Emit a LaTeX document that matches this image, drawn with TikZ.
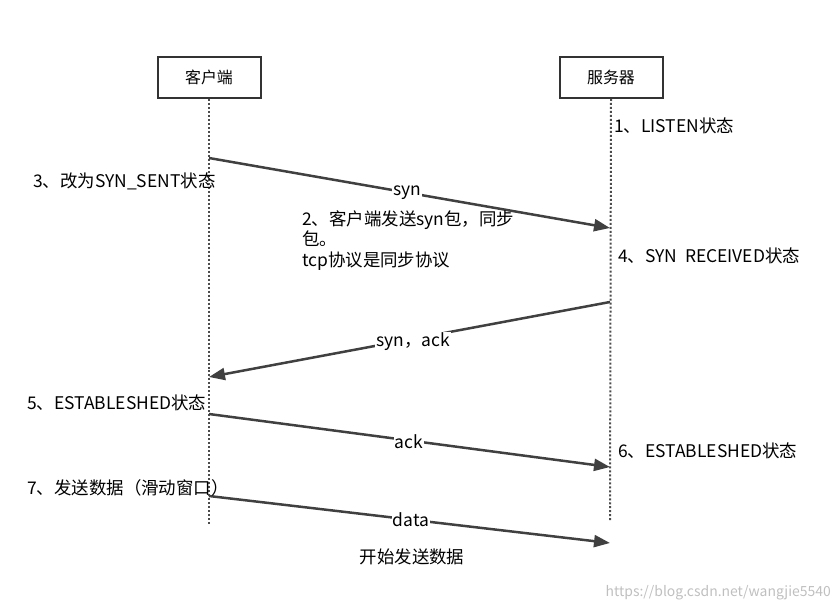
\documentclass[tikz,border=0pt]{standalone}
\usepackage{fontspec}
\setmainfont{Noto Sans CJK SC}
\usetikzlibrary{arrows.meta}
\begin{document}
\begin{tikzpicture}[x=1bp,y=-1bp,
  actor/.style={draw=black!80,line width=2bp,minimum width=103bp,minimum height=41bp,font=\fontsize{16}{19}\selectfont,fill=white},
  life/.style={line width=2bp,dotted,draw=black!70},
  msg/.style={line width=2.5bp,draw=black!75,-{Triangle[length=16bp,width=12bp]}},
  lbl/.style={fill=white,inner sep=1bp,font=\fontsize{17.5}{21}\selectfont},
  note/.style={anchor=west,inner sep=0,font=\fontsize{17.5}{21}\selectfont,align=left}]
\useasboundingbox (0,0) rectangle (839,610);
\node[actor] (c) at (209,77.5) {客户端};
\node[actor] (s) at (611,77.5) {服务器};
\coordinate (ce) at (209,525);
\coordinate (se) at (610,520);
\draw[life] (c.south) -- (ce);
\draw[life] (s.south) -- (se);
\coordinate (c1) at (209,158); \coordinate (s1) at (610,228);
\coordinate (s2) at (610,302); \coordinate (c2) at (209,377);
\coordinate (c3) at (209,414); \coordinate (s3) at (610,467);
\coordinate (c4) at (209,496); \coordinate (s4) at (610,543);
\draw[msg] (c1) -- (s1);
\draw[msg] (s2) -- (c2);
\draw[msg] (c3) -- (s3);
\draw[msg] (c4) -- (s4);
\node[lbl] (l1) at (407,193) {syn};
\node[lbl] (l2) at (413,342) {syn，ack};
\node[lbl] (l3) at (409,442) {ack};
\node[lbl] (l4) at (411,520) {data};
\node[note] (n1) at (614,126) {1、LISTEN状态};
\node[note] (n3) at (33,181) {3、改为SYN\_SENT状态};
\node[note,anchor=north west] (n2) at (302,210) {2、客户端发送syn包，同步\\包。\\tcp协议是同步协议};
\node[note] (n4) at (618,256) {4、SYN\ \ RECEIVED状态};
\node[note] (n5) at (27,403) {5、ESTABLESHED状态};
\node[note] (n6) at (618,451) {6、ESTABLESHED状态};
\node[note] (n7) at (27,488) {7、发送数据（滑动窗口）};
\node[note,anchor=center] (n8) at (412,557) {开始发送数据};
\node[note,anchor=east,text=black!25,font=\fontsize{14}{16}\selectfont] (wm) at (831,593) {https://blog.csdn.net/wangjie5540};
\end{tikzpicture}
\end{document}
